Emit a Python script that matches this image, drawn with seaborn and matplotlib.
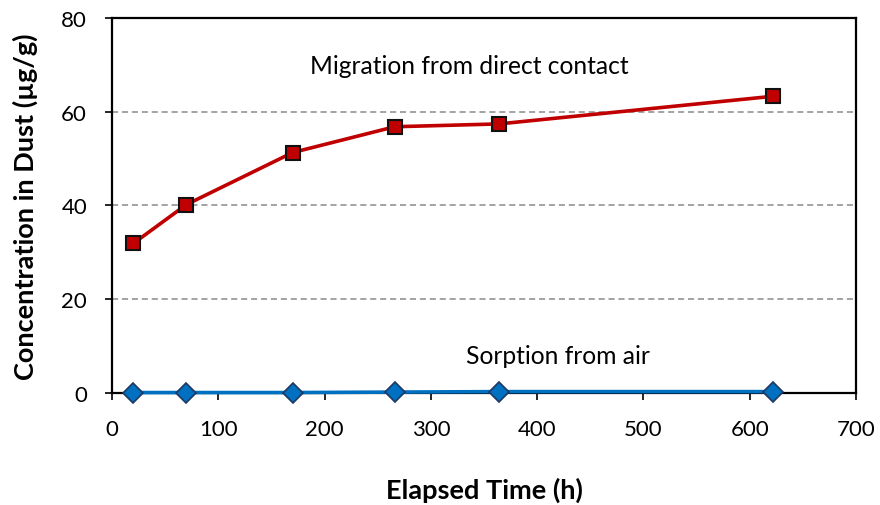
import matplotlib
matplotlib.use("Agg")
import matplotlib.pyplot as plt
import seaborn as sns
import pandas as pd

# Elapsed time (h) and dust concentration (µg/g)
elapsed_h = [20, 70, 170, 266, 364, 622]
direct_contact = [31.9, 40.2, 51.3, 56.8, 57.4, 63.3]
sorption_air = [0.1, 0.1, 0.1, 0.2, 0.3, 0.3]

x_ticks = [0, 100, 200, 300, 400, 500, 600, 700]
y_ticks = [0, 20, 40, 60, 80]

sns.set_theme(style="white")
plt.rcParams["font.family"] = ["Lato", "DejaVu Sans"]
plt.rcParams["text.color"] = "black"
plt.rcParams["axes.labelcolor"] = "black"

df_contact = pd.DataFrame({"t": elapsed_h, "c": direct_contact})
df_air = pd.DataFrame({"t": elapsed_h, "c": sorption_air})

fig = plt.figure(figsize=(8.8, 5.06), dpi=100)
ax = fig.add_axes([0.1273, 0.2213, 0.8454, 0.7412])

for y in [20, 40, 60]:
    ax.axhline(y, color="#8a8a8a", lw=1.1, ls=(0, (4, 2.5)), zorder=0)

sns.lineplot(data=df_air, x="t", y="c", ax=ax, color="#0070C0", lw=2.6,
             marker="D", markersize=10, markerfacecolor="#0070C0",
             markeredgecolor="#1F3864", markeredgewidth=1.2, zorder=4,
             clip_on=False)
sns.lineplot(data=df_contact, x="t", y="c", ax=ax, color="#C00000", lw=2.6,
             marker="s", markersize=10, markerfacecolor="#C00000",
             markeredgecolor="#111111", markeredgewidth=1.5, zorder=4,
             clip_on=False)

ax.set_xlim(0, 700)
ax.set_ylim(0, 80)
ax.set_xticks(x_ticks)
ax.set_yticks(y_ticks)
ax.tick_params(axis="both", direction="out", length=5, width=1.2, color="black",
               labelcolor="black", labelsize=16, bottom=True, left=True)
ax.tick_params(axis="x", pad=14)
ax.tick_params(axis="y", pad=13)
for s in ax.spines.values():
    s.set_color("black")
    s.set_linewidth(1.6)

ax.set_xlabel("Elapsed Time (h)", fontsize=19.5, fontweight="bold", va="center")
ax.set_ylabel("Concentration in Dust (µg/g)", fontsize=19.5, fontweight="bold", va="center")
ax.xaxis.set_label_coords(0.5, -0.256)
ax.yaxis.set_label_coords(-0.117, 0.5)

ax.text(336, 69.8, "Migration from direct contact", fontsize=17.7, ha="center", va="center")
ax.text(420, 8.1, "Sorption from air", fontsize=17.7, ha="center", va="center")

fig.savefig("out.png", dpi=100)
